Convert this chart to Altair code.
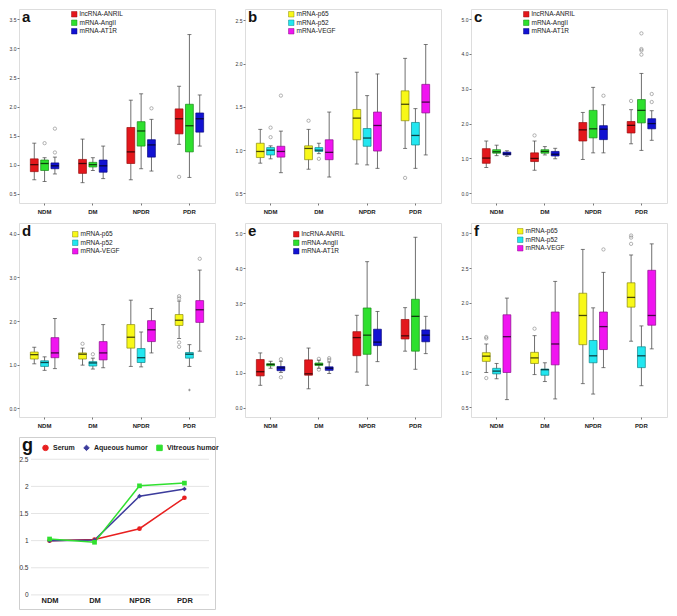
import altair as alt
import pandas as pd

GROUPS = ["NDM", "DM", "NPDR", "PDR"]
SER1 = ["lncRNA-ANRIL", "mRNA-AngII", "mRNA-AT1R"]
SER2 = ["mRNA-p65", "mRNA-p52", "mRNA-VEGF"]
COL1 = ["#e3171c", "#2ee02e", "#1212d2"]
EDGE1 = ["#9a1010", "#1a8a1a", "#0a0a80"]
COL2 = ["#f8f818", "#22e6f0", "#f014f0"]
EDGE2 = ["#8a8a10", "#10868a", "#8a108a"]

# (lower whisker, Q1, median, Q3, upper whisker) for NDM, DM, NPDR, PDR
A_ANRIL = [(0.74, 0.88, 1.00, 1.10, 1.37), (0.69, 0.85, 1.02, 1.09, 1.44), (0.74, 1.02, 1.22, 1.64, 2.11), (1.35, 1.53, 1.79, 1.96, 2.35)]
A_ANGII = [(0.71, 0.90, 1.02, 1.08, 1.12), (0.90, 0.96, 1.00, 1.04, 1.12), (0.93, 1.32, 1.58, 1.74, 2.22), (0.78, 1.22, 1.67, 2.04, 3.24)]
A_AT1R = [(0.84, 0.93, 0.98, 1.03, 1.13), (0.76, 0.87, 0.98, 1.08, 1.32), (0.89, 1.13, 1.34, 1.43, 1.78), (1.32, 1.56, 1.79, 1.89, 2.20)]
A_OUT = [("NDM", "mRNA-AngII", 1.37), ("NDM", "mRNA-AT1R", 1.21), ("NDM", "mRNA-AT1R", 1.62),
         ("NPDR", "mRNA-AT1R", 1.97), ("PDR", "lncRNA-ANRIL", 0.79)]

B_P65 = [(0.85, 0.915, 0.985, 1.08, 1.24), (0.78, 0.89, 1.02, 1.05, 1.24), (0.84, 1.12, 1.37, 1.47, 1.90), (1.02, 1.34, 1.53, 1.685, 2.06)]
B_P52 = [(0.90, 0.945, 1.00, 1.03, 1.05), (0.96, 0.985, 1.00, 1.03, 1.08), (0.83, 1.045, 1.14, 1.25, 1.63), (0.79, 1.06, 1.17, 1.32, 1.48)]
B_VEGF = [(0.74, 0.92, 0.985, 1.045, 1.22), (0.69, 0.89, 0.975, 1.12, 1.44), (0.79, 0.99, 1.285, 1.44, 1.88), (0.945, 1.43, 1.555, 1.76, 2.22)]
B_OUT = [("NDM", "mRNA-p52", 1.26), ("NDM", "mRNA-p52", 1.15), ("NDM", "mRNA-VEGF", 1.63),
         ("DM", "mRNA-p65", 1.34), ("DM", "mRNA-p52", 0.90), ("PDR", "mRNA-p65", 0.68)]

C_ANRIL = [(0.74, 0.86, 1.01, 1.28, 1.50), (0.66, 0.91, 1.00, 1.16, 1.50), (0.97, 1.50, 1.82, 2.03, 2.32), (1.42, 1.73, 1.95, 2.06, 2.40)]
C_ANGII = [(1.08, 1.15, 1.19, 1.25, 1.38), (1.10, 1.15, 1.20, 1.25, 1.34), (1.16, 1.59, 1.85, 2.38, 3.04), (1.23, 2.02, 2.38, 2.69, 3.44)]
C_AT1R = [(1.06, 1.10, 1.13, 1.18, 1.22), (0.99, 1.07, 1.12, 1.20, 1.29), (1.16, 1.54, 1.84, 1.94, 2.54), (1.52, 1.85, 2.00, 2.14, 2.37)]
C_OUT = [("DM", "lncRNA-ANRIL", 1.66), ("NPDR", "mRNA-AT1R", 2.80), ("PDR", "lncRNA-ANRIL", 2.65),
         ("PDR", "mRNA-AngII", 4.59), ("PDR", "mRNA-AngII", 4.14), ("PDR", "mRNA-AngII", 4.10),
         ("PDR", "mRNA-AngII", 3.98), ("PDR", "mRNA-AT1R", 2.85), ("PDR", "mRNA-AT1R", 2.62)]

D_P65 = [(1.02, 1.13, 1.23, 1.29, 1.40), (0.99, 1.13, 1.24, 1.27, 1.38), (0.96, 1.38, 1.63, 1.92, 2.48), (1.60, 1.90, 2.02, 2.15, 2.46)]
D_P52 = [(0.87, 0.96, 1.05, 1.09, 1.18), (0.90, 0.97, 1.04, 1.07, 1.15), (0.95, 1.05, 1.16, 1.37, 1.75), (0.96, 1.15, 1.24, 1.28, 1.46)]
D_VEGF = [(0.91, 1.16, 1.27, 1.62, 2.06), (0.93, 1.11, 1.27, 1.53, 1.92), (1.27, 1.53, 1.80, 2.01, 2.29), (1.31, 1.97, 2.26, 2.47, 3.17)]
D_OUT = [("DM", "mRNA-p65", 1.48), ("DM", "mRNA-p52", 1.24), ("PDR", "mRNA-p65", 2.57),
         ("PDR", "mRNA-p65", 2.52), ("PDR", "mRNA-p65", 1.51), ("PDR", "mRNA-p65", 1.41),
         ("PDR", "mRNA-VEGF", 3.43)]
D_EXT = [("PDR", "mRNA-p52", 0.42)]

E_ANRIL = [(0.64, 0.91, 1.03, 1.38, 1.57), (0.54, 0.93, 0.97, 1.37, 1.71), (1.02, 1.49, 2.01, 2.18, 2.65), (1.62, 1.97, 2.06, 2.53, 2.87)]
E_ANGII = [(1.13, 1.20, 1.24, 1.26, 1.33), (1.13, 1.21, 1.24, 1.28, 1.36), (0.64, 1.53, 2.08, 2.86, 4.19), (1.10, 1.62, 2.62, 3.11, 4.89)]
E_AT1R = [(1.01, 1.06, 1.14, 1.18, 1.33), (0.98, 1.07, 1.13, 1.17, 1.31), (1.32, 1.78, 1.88, 2.25, 2.76), (1.55, 1.89, 2.08, 2.23, 2.62)]
E_OUT = [("NDM", "mRNA-AT1R", 1.39), ("NDM", "mRNA-AT1R", 0.87), ("DM", "mRNA-AngII", 1.40),
         ("DM", "mRNA-AngII", 1.09), ("DM", "mRNA-AT1R", 1.42), ("DM", "mRNA-AT1R", 1.37)]

F_P65 = [(1.00, 1.16, 1.235, 1.285, 1.41), (0.97, 1.13, 1.21, 1.29, 1.53), (0.84, 1.40, 1.82, 2.14, 2.77), (1.45, 1.94, 2.08, 2.29, 2.69)]
F_P52 = [(0.91, 0.98, 1.02, 1.06, 1.13), (0.87, 0.96, 1.04, 1.05, 1.14), (0.69, 1.14, 1.24, 1.46, 1.93), (0.81, 1.07, 1.24, 1.37, 1.67)]
F_VEGF = [(0.61, 1.00, 1.515, 1.83, 2.07), (0.62, 1.11, 1.41, 1.87, 2.31), (1.07, 1.33, 1.66, 1.87, 2.44), (1.34, 1.68, 1.82, 2.47, 2.85)]
F_OUT = [("NDM", "mRNA-p65", 1.51), ("NDM", "mRNA-p65", 1.49), ("NDM", "mRNA-p65", 0.92),
         ("DM", "mRNA-p65", 1.63), ("NPDR", "mRNA-VEGF", 2.77), ("PDR", "mRNA-p65", 2.97),
         ("PDR", "mRNA-p65", 2.94), ("PDR", "mRNA-p65", 2.85)]

G_NAMES = ["Serum", "Aqueous humor", "Vitreous humor"]
G_SERUM = [1.00, 1.02, 1.22, 1.79]
G_AQUEOUS = [1.00, 1.01, 1.82, 1.95]
G_VITREOUS = [1.03, 0.97, 2.01, 2.06]
G_COLORS = ["#e82020", "#3c3c9c", "#30e030"]
G_SHAPES = ["circle", "diamond", "square"]
G_TICKS = [0, 0.5, 1, 1.5, 2, 2.5]

FONT = "Liberation Sans"
PW, PH = 196, 194


def panel(letter, series, colors, edges, stats, outliers, extremes, domain, ticks, leg_x, leg_y):
    rows = []
    for s, vals in zip(series, stats):
        for g, v in zip(GROUPS, vals):
            rows.append({"group": g, "series": s, "lo": v[0], "q1": v[1],
                         "med": v[2], "q3": v[3], "hi": v[4]})
    df = pd.DataFrame(rows)
    x = alt.X("group:N", sort=GROUPS,
              scale=alt.Scale(domain=GROUPS, paddingInner=0.41, paddingOuter=0.235),
              axis=alt.Axis(title=None, labelAngle=0, labelFontSize=6, labelFontWeight="bold",
                            labelColor="#222", tickSize=2, tickColor="#777", domain=False,
                            labelPadding=3))
    xo = alt.XOffset("series:N", sort=series,
                     scale=alt.Scale(domain=series, paddingInner=0.24, paddingOuter=0))
    ys = alt.Scale(domain=domain, nice=False, zero=False)
    yaxis = alt.Axis(title=None, values=ticks, format=".1f", labelFontSize=5,
                     labelColor="#333", tickSize=2, tickColor="#777", domain=False,
                     grid=False, labelPadding=1, labelOverlap=False, labelFlush=False)

    def Y(field):
        return alt.Y(field, scale=ys, axis=yaxis)

    base = alt.Chart(df).encode(x=x, xOffset=xo)
    whisk = base.mark_rule(color="#707070", strokeWidth=1).encode(y=Y("lo:Q"), y2="hi:Q")
    cap_lo = base.mark_tick(color="#444", size=4, thickness=1).encode(y=Y("lo:Q"))
    cap_hi = base.mark_tick(color="#444", size=4, thickness=1).encode(y=Y("hi:Q"))
    box = base.mark_bar(strokeWidth=0.7).encode(
        y=Y("q1:Q"), y2="q3:Q",
        fill=alt.Fill("series:N", sort=series, scale=alt.Scale(domain=series, range=colors),
                      legend=alt.Legend(title=None, orient="none", legendX=leg_x, legendY=leg_y,
                                        direction="vertical", symbolType="square",
                                        symbolSize=30, symbolStrokeColor="#333",
                                        symbolStrokeWidth=0.5, labelFontSize=6.5,
                                        labelColor="#222", rowPadding=0.5, padding=0,
                                        labelOffset=2, labelFont=FONT)),
        stroke=alt.Stroke("series:N", sort=series, scale=alt.Scale(domain=series, range=edges),
                          legend=None))
    med = base.mark_tick(color="black", size=8, thickness=1.3).encode(y=Y("med:Q"))
    odf = pd.DataFrame(outliers, columns=["group", "series", "val"])
    out = alt.Chart(odf).mark_point(shape="circle", size=11, filled=False, color="#666",
                                     strokeWidth=0.7).encode(x=x, xOffset=xo, y=Y("val:Q"))
    layers = [whisk, cap_lo, cap_hi, box, med, out]
    if extremes:
        edf = pd.DataFrame(extremes, columns=["group", "series", "val"])
        layers.append(alt.Chart(edf).mark_point(shape="cross", size=6, filled=True,
                                                 color="#666").encode(x=x, xOffset=xo, y=Y("val:Q")))
    txt = alt.Chart(pd.DataFrame({"t": [letter]})).mark_text(
        fontSize=15, fontWeight="bold", align="left", baseline="top", font=FONT,
        color="#111").encode(text="t:N", x=alt.value(3), y=alt.value(1))
    layers.append(txt)
    return alt.layer(*layers).properties(width=PW, height=PH)


pa = panel("a", SER1, COL1, EDGE1, [A_ANRIL, A_ANGII, A_AT1R], A_OUT, None,
           [0.34, 3.68], [0.5, 1.0, 1.5, 2.0, 2.5, 3.0, 3.5], 52, 2)
pb = panel("b", SER2, COL2, EDGE2, [B_P65, B_P52, B_VEGF], B_OUT, None,
           [0.39, 2.63], [0.5, 1.0, 1.5, 2.0, 2.5], 43, 2)
pc = panel("c", SER1, COL1, EDGE1, [C_ANRIL, C_ANGII, C_AT1R], C_OUT, None,
           [-0.28, 5.29], [0, 1, 2, 3, 4, 5], 52, 2)
pd_ = panel("d", SER2, COL2, EDGE2, [D_P65, D_P52, D_VEGF], D_OUT, D_EXT,
            [-0.2, 4.25], [0, 1, 2, 3, 4], 53, 8)
pe = panel("e", SER1, COL1, EDGE1, [E_ANRIL, E_ANGII, E_AT1R], E_OUT, None,
           [-0.27, 5.30], [0, 1, 2, 3, 4, 5], 48, 8)
pf = panel("f", SER2, COL2, EDGE2, [F_P65, F_P52, F_VEGF], F_OUT, None,
           [0.36, 3.15], [0.5, 1.0, 1.5, 2.0, 2.5, 3.0], 46, 5)

grows = []
for name, vals in zip(G_NAMES, [G_SERUM, G_AQUEOUS, G_VITREOUS]):
    for g, v in zip(GROUPS, vals):
        grows.append({"group": g, "tissue": name, "val": v})
gdf = pd.DataFrame(grows)

gys = alt.Scale(domain=[-0.26, 2.91], nice=False, zero=False)
gyaxis = alt.Axis(title=None, values=G_TICKS, format="~g", labelFontSize=6.5,
                  labelColor="#333", ticks=False, domain=False, grid=False,
                  offset=-9, labelPadding=0, labelOverlap=False, labelFlush=False)
gx = alt.X("group:N", sort=GROUPS, scale=alt.Scale(domain=GROUPS, type="point", padding=0.68),
           axis=alt.Axis(title=None, labelAngle=0, labelFontSize=7.5, labelFontWeight="bold",
                         labelColor="#222", ticks=False, domain=False, offset=-13,
                         labelPadding=0))
gy = alt.Y("val:Q", scale=gys, axis=gyaxis)
glegend = alt.Legend(title=None, orient="none", legendX=23, legendY=7,
                     direction="horizontal", labelFontSize=7, labelFontWeight="bold",
                     labelColor="#222", symbolSize=30, columnPadding=6, labelOffset=4,
                     padding=0, labelFont=FONT, symbolStrokeWidth=1)
gcolor = alt.Color("tissue:N", sort=G_NAMES, scale=alt.Scale(domain=G_NAMES, range=G_COLORS),
                   legend=glegend)
gshape = alt.Shape("tissue:N", sort=G_NAMES, scale=alt.Scale(domain=G_NAMES, range=G_SHAPES),
                   legend=None)

grid = alt.Chart(pd.DataFrame({"val": G_TICKS})).mark_rule(color="#e4e4e4", strokeWidth=1).encode(
    y=gy, x=alt.value(12), x2=alt.value(190))
glines = alt.Chart(gdf).mark_line(strokeWidth=1.5).encode(x=gx, y=gy, color=gcolor)
gpts = alt.Chart(gdf).mark_point(filled=True, size=22, opacity=1).encode(
    x=gx, y=gy, color=gcolor, shape=gshape)
gtxt = alt.Chart(pd.DataFrame({"t": ["g"]})).mark_text(
    fontSize=18, fontWeight="bold", align="left", baseline="top", font=FONT,
    color="#111").encode(text="t:N", x=alt.value(3), y=alt.value(0))
pg = alt.layer(grid, glines, gpts, gtxt).properties(
    width=PW, height=172, view=alt.ViewBackground(stroke="#cfcfcf", strokeWidth=1))

chart = alt.concat(pa, pb, pc, pd_, pe, pf, pg, columns=3, bounds="flush",
                   spacing={"row": 20, "column": 30}).resolve_scale(
    x="independent", y="independent", xOffset="independent", fill="independent",
    stroke="independent", color="independent", shape="independent").resolve_legend(
    fill="independent", stroke="independent", color="independent", shape="independent"
).properties(padding=0).configure_view(stroke="#a8a8a8", strokeWidth=1).configure(
    font=FONT).configure_axis(labelOverlap=False)

chart.save("out.html", embed_options={"renderer": "svg", "actions": False})
